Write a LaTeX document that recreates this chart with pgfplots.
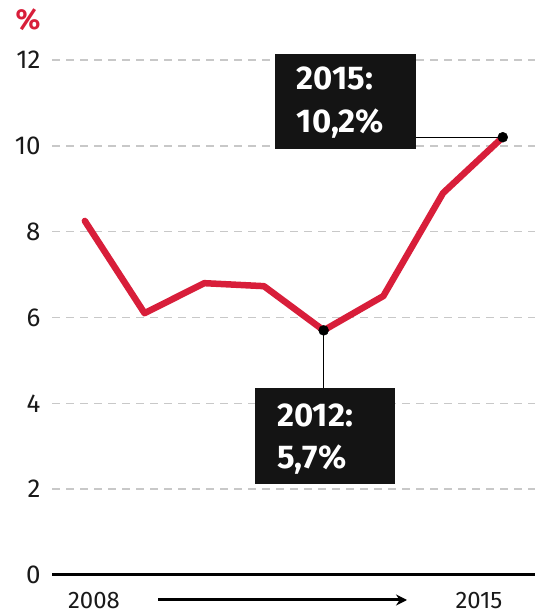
\documentclass[border=0pt]{standalone}
\usepackage{pgfplots}
\pgfplotsset{compat=1.18}
\usepackage{fontspec}
\setmainfont{Fira Sans}
\newfontfamily\heavyfont{Fira Sans}
\usetikzlibrary{arrows.meta}
\definecolor{chartred}{HTML}{D81E3A}
\definecolor{gridgray}{HTML}{C8C8C8}
\begin{document}
\begin{tikzpicture}[x=1bp,y=1bp]
\path[use as bounding box] (0,0) rectangle (535,613);
\begin{axis}[
  at={(52bp,38bp)}, anchor=south west,
  scale only axis, width=483bp, height=515bp,
  xmin=2007.45, xmax=2015.54, ymin=0, ymax=12,
  axis x line=bottom, axis y line=left,
  x axis line style={line width=3bp,-},
  y axis line style={draw=none},
  xtick=\empty,
  ytick={0,2,4,6,8,10,12},
  major tick length=0pt,
  ymajorgrids,
  grid style={gridgray, line width=1.4bp, dash pattern=on 8bp off 6bp},
  /pgf/number format/assume math mode=true,
  yticklabel style={font=\fontsize{26}{30}\selectfont, text=black!90, xshift=-8bp},
  clip=false,
]
\addplot[chartred, line width=6.5bp, line join=round, line cap=round] coordinates {
  (2008,8.25) (2009,6.1) (2010,6.8) (2011,6.73) (2012,5.7) (2013,6.5) (2014,8.9) (2015,10.2)
};
% connectors
\draw[black, line width=1.3bp] (axis cs:2013.5,10.2) -- (axis cs:2015,10.2);
\draw[black, line width=1.3bp] (axis cs:2012,5.7) -- (axis cs:2012,4.36);
\addplot[only marks, mark=*, mark size=5bp, black] coordinates {(2012,5.7) (2015,10.2)};
% boxes
\fill[black!92] (axis cs:2011.18,9.93) rectangle (axis cs:2013.54,12.14);
\fill[black!92] (axis cs:2010.85,2.12) rectangle (axis cs:2013.19,4.36);
\node[anchor=base west, inner sep=0, text=white, font=\heavyfont\bfseries\fontsize{33}{38}\selectfont] at (axis cs:2011.55,11.31) {2015:};
\node[anchor=base west, inner sep=0, text=white, font=\heavyfont\bfseries\fontsize{33}{38}\selectfont] at (axis cs:2011.55,10.30) {10,2\%};
\node[anchor=base west, inner sep=0, text=white, font=\heavyfont\bfseries\fontsize{33}{38}\selectfont] at (axis cs:2011.22,3.45) {2012:};
\node[anchor=base west, inner sep=0, text=white, font=\heavyfont\bfseries\fontsize{33}{38}\selectfont] at (axis cs:2011.22,2.49) {5,7\%};
\end{axis}
\node[text=chartred, font=\heavyfont\bfseries\fontsize{29}{33}\selectfont, inner sep=0] at (28,593) {\%};
\node[anchor=south, inner sep=0, font=\fontsize{24}{28}\selectfont, text=black!90] at (94,4) {2008};
\node[anchor=south, inner sep=0, font=\fontsize{24}{28}\selectfont, text=black!90] at (479,4) {2015};
\draw[line width=3bp, -{Stealth[length=11bp,width=11bp]}] (158,13) -- (407,13);
\end{tikzpicture}
\end{document}
